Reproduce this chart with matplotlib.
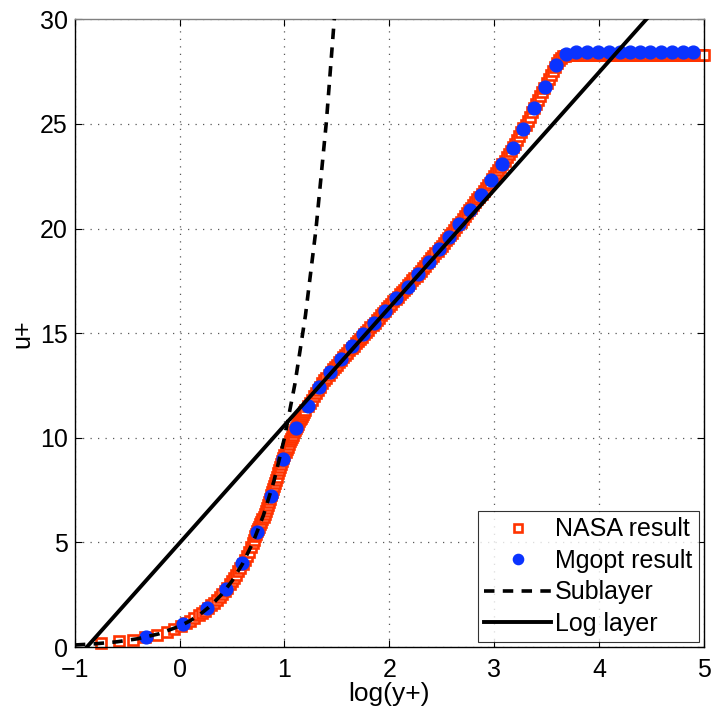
import matplotlib.pyplot as plt

plt.rcParams['font.family'] = ['Liberation Sans', 'DejaVu Sans']

# NASA result (red squares), read along the band
nasa_logy = [-0.755, -0.578, -0.45, -0.33, -0.216, -0.12, -0.05, 0.01, 0.06, 0.10,
             0.14, 0.18, 0.21, 0.24, 0.27, 0.30, 0.33, 0.355, 0.38, 0.405,
             0.43, 0.455, 0.48, 0.50, 0.52, 0.54, 0.56, 0.58, 0.60, 0.62,
             0.64, 0.66, 0.68,
             0.70, 0.71, 0.72, 0.73, 0.74, 0.75, 0.76, 0.77, 0.78, 0.79,
             0.80, 0.81, 0.82, 0.83, 0.84, 0.85, 0.86, 0.87, 0.88, 0.89,
             0.90, 0.91, 0.92, 0.93, 0.94, 0.95, 0.96, 0.97, 0.98, 0.99,
             1.00, 1.01, 1.02, 1.03, 1.04, 1.05, 1.06, 1.07, 1.08, 1.09,
             1.10, 1.11, 1.12, 1.13, 1.14, 1.15, 1.16, 1.17, 1.18, 1.19,
             1.20, 1.22,
             1.24, 1.26, 1.28, 1.30, 1.32, 1.34, 1.36, 1.38, 1.40, 1.42,
             1.44, 1.46, 1.48, 1.50, 1.52, 1.54, 1.56, 1.58, 1.60, 1.62,
             1.64, 1.66, 1.68, 1.70, 1.72, 1.74, 1.76, 1.78, 1.80, 1.82,
             1.84, 1.86, 1.88, 1.90, 1.92, 1.94, 1.96, 1.98, 2.00, 2.02,
             2.04, 2.06, 2.08, 2.10, 2.12, 2.14, 2.16, 2.18, 2.20, 2.22,
             2.24, 2.26, 2.28, 2.30, 2.32, 2.34, 2.36, 2.38, 2.40, 2.42,
             2.44, 2.46, 2.48, 2.50, 2.52, 2.54, 2.56, 2.58, 2.60, 2.62,
             2.64, 2.66, 2.68, 2.70, 2.72, 2.74, 2.76, 2.78, 2.80, 2.82,
             2.84, 2.86, 2.88, 2.90, 2.92, 2.94, 2.96, 2.98, 3.00, 3.02,
             3.04, 3.06, 3.08, 3.10, 3.12, 3.14, 3.16, 3.18, 3.20, 3.22,
             3.24, 3.26, 3.28, 3.30, 3.32, 3.34, 3.36, 3.38, 3.40, 3.42,
             3.44, 3.46, 3.48, 3.50, 3.52, 3.54, 3.56, 3.58, 3.60, 3.62,
             3.64, 3.66, 3.68, 3.70, 3.72,
             3.74, 3.76, 3.78, 3.80, 3.82, 3.84, 3.86, 3.88, 3.90, 3.92,
             3.94, 3.96, 3.98, 4.00, 4.02, 4.04, 4.06, 4.08, 4.10, 4.12,
             4.14, 4.16, 4.18, 4.20, 4.22, 4.24, 4.26, 4.28, 4.30, 4.32,
             4.34, 4.36, 4.38, 4.40, 4.42, 4.44, 4.46, 4.48, 4.50, 4.52,
             4.54, 4.56, 4.58, 4.60, 4.62, 4.64, 4.66, 4.68, 4.70, 4.72,
             4.74, 4.76, 4.78, 4.80, 4.82, 4.84, 4.86, 4.88, 4.90, 4.92,
             4.94, 4.96, 4.98, 5.00]
nasa_u = [0.18, 0.27, 0.36, 0.47, 0.59, 0.74, 0.88, 1.02, 1.15, 1.26,
          1.38, 1.51, 1.62, 1.74, 1.86, 1.99, 2.13, 2.26, 2.39, 2.53,
          2.68, 2.84, 3.00, 3.15, 3.30, 3.45, 3.62, 3.79, 3.97, 4.15,
          4.35, 4.55, 4.77,
          4.98, 5.14, 5.30, 5.42, 5.55, 5.65, 5.75, 5.86, 5.98, 6.10,
          6.22, 6.36, 6.50, 6.65, 6.80, 6.95, 7.10, 7.25, 7.40, 7.55,
          7.70, 7.85, 8.00, 8.15, 8.30, 8.45, 8.60, 8.75, 8.90, 9.05,
          9.20, 9.33, 9.45, 9.58, 9.70, 9.83, 9.95, 10.05, 10.15, 10.27,
          10.38, 10.48, 10.58, 10.68, 10.78, 10.88, 10.97, 11.06, 11.15, 11.24,
          11.33, 11.50,
          11.67, 11.83, 11.98, 12.14, 12.30, 12.45, 12.60, 12.74, 12.88, 13.01,
          13.14, 13.27, 13.39, 13.50, 13.62, 13.73, 13.85, 13.96, 14.07, 14.18,
          14.29, 14.40, 14.51, 14.62, 14.73, 14.84, 14.95, 15.06, 15.17, 15.28,
          15.39, 15.50, 15.62, 15.73, 15.85, 15.96, 16.07, 16.19, 16.30, 16.41,
          16.53, 16.64, 16.75, 16.85, 16.96, 17.07, 17.17, 17.28, 17.40, 17.52,
          17.63, 17.75, 17.87, 17.99, 18.11, 18.23, 18.35, 18.47, 18.59, 18.71,
          18.83, 18.95, 19.07, 19.19, 19.31, 19.43, 19.54, 19.67, 19.80, 19.93,
          20.07, 20.20, 20.33, 20.47, 20.60, 20.73, 20.87, 21.00, 21.13, 21.27,
          21.40, 21.53, 21.67, 21.80, 21.93, 22.07, 22.20, 22.35, 22.49, 22.64,
          22.79, 22.93, 23.08, 23.24, 23.40, 23.56, 23.72, 23.88, 24.05, 24.23,
          24.41, 24.60, 24.79, 24.97, 25.16, 25.35, 25.55, 25.74, 25.94, 26.14,
          26.34, 26.54, 26.74, 26.94, 27.14, 27.34, 27.54, 27.74, 27.92, 28.06,
          28.16, 28.23, 28.27, 28.29, 28.30,
          28.30, 28.30, 28.30, 28.30, 28.30, 28.30, 28.30, 28.30, 28.30, 28.30,
          28.30, 28.30, 28.30, 28.30, 28.30, 28.30, 28.30, 28.30, 28.30, 28.30,
          28.30, 28.30, 28.30, 28.30, 28.30, 28.30, 28.30, 28.30, 28.30, 28.30,
          28.30, 28.30, 28.30, 28.30, 28.30, 28.30, 28.30, 28.30, 28.30, 28.30,
          28.30, 28.30, 28.30, 28.30, 28.30, 28.30, 28.30, 28.30, 28.30, 28.30,
          28.30, 28.30, 28.30, 28.30, 28.30, 28.30, 28.30, 28.30, 28.30, 28.30,
          28.30, 28.30, 28.30, 28.30]

# Mgopt result (blue dots)
mg_logy = [-0.324, 0.03, 0.262, 0.442, 0.596, 0.733, 0.87, 0.984, 1.111, 1.222,
           1.327, 1.435, 1.54, 1.645, 1.752, 1.857, 1.959, 2.063, 2.174, 2.27,
           2.375, 2.47, 2.571, 2.667, 2.768, 2.873, 2.974, 3.079, 3.179, 3.279,
           3.381, 3.483, 3.587, 3.683, 3.784, 3.889, 3.993, 4.095, 4.197, 4.295,
           4.39, 4.492, 4.597, 4.698, 4.8, 4.898]
mg_u = [0.48, 1.12, 1.85, 2.78, 4.04, 5.51, 7.21, 8.97, 10.45, 11.51,
        12.41, 13.15, 13.75, 14.38, 14.94, 15.5, 16.05, 16.69, 17.21, 17.82,
        18.41, 19.0, 19.58, 20.24, 20.88, 21.6, 22.31, 23.07, 23.83, 24.78,
        25.74, 26.77, 27.81, 28.36, 28.45, 28.45, 28.45, 28.45, 28.45, 28.45,
        28.45, 28.45, 28.45, 28.45, 28.45, 28.45]

# viscous sublayer u+ = y+
sub_logy = [-1.0, -0.8, -0.6, -0.4, -0.2, 0.0, 0.1, 0.2, 0.3, 0.4, 0.5,
            0.6, 0.7, 0.8, 0.9, 1.0, 1.1, 1.2, 1.3, 1.4, 1.5]
sub_u = [0.1, 0.158, 0.251, 0.398, 0.631, 1.0, 1.259, 1.585, 1.995, 2.512, 3.162,
         3.981, 5.012, 6.31, 7.943, 10.0, 12.59, 15.85, 19.95, 25.12, 31.62]

# log layer
log_logy = [-0.886, 5.0]
log_u = [0.0, 33.08]

fig = plt.figure(figsize=(7.13, 7.15), dpi=100)
ax = fig.add_axes([0.105, 0.095, 0.882, 0.878])

ax.plot(nasa_logy, nasa_u, 's', mfc='white', mec=(1.0, 0.2, 0.0), mew=1.9,
        ms=7.2, clip_on=False, zorder=2, label='NASA result')
ax.plot(mg_logy, mg_u, 'o', color=(0.04, 0.2, 1.0), ms=9.2, clip_on=False,
        zorder=3, label='Mgopt result')
ax.plot(sub_logy, sub_u, '--', color='black', lw=2.6, dashes=(2.9, 2.3),
        zorder=4, label='Sublayer')
ax.plot(log_logy, log_u, '-', color='black', lw=2.8, zorder=4, label='Log layer')

ax.set_xlim(-1, 5)
ax.set_ylim(0, 30)
ax.set_xticks([-1, 0, 1, 2, 3, 4, 5])
ax.set_yticks([0, 5, 10, 15, 20, 25, 30])
ax.set_xticklabels(['\u22121', '0', '1', '2', '3', '4', '5'])
ax.tick_params(direction='in', length=5, width=0.8, top=True, right=True,
               labelsize=18)
ax.tick_params(axis='x', pad=8)
ax.tick_params(axis='y', pad=5)
ax.grid(True, linestyle=(0, (1, 5)), color='0.35', lw=0.9)
for s in ax.spines.values():
    s.set_linewidth(1.0)
ax.spines['top'].set_color('0.5')

ax.set_xlabel('log(y+)', fontsize=19, labelpad=0)
ax.set_ylabel('u+', fontsize=18, labelpad=4)

leg = ax.legend(loc='lower right', fontsize=18, frameon=True, fancybox=False,
                edgecolor='black', borderpad=0.25, labelspacing=0.3,
                handlelength=2.7, handletextpad=0.15, borderaxespad=0.2,
                markerscale=0.8)
leg.get_frame().set_linewidth(0.8)

fig.savefig('out.png', dpi=100)
